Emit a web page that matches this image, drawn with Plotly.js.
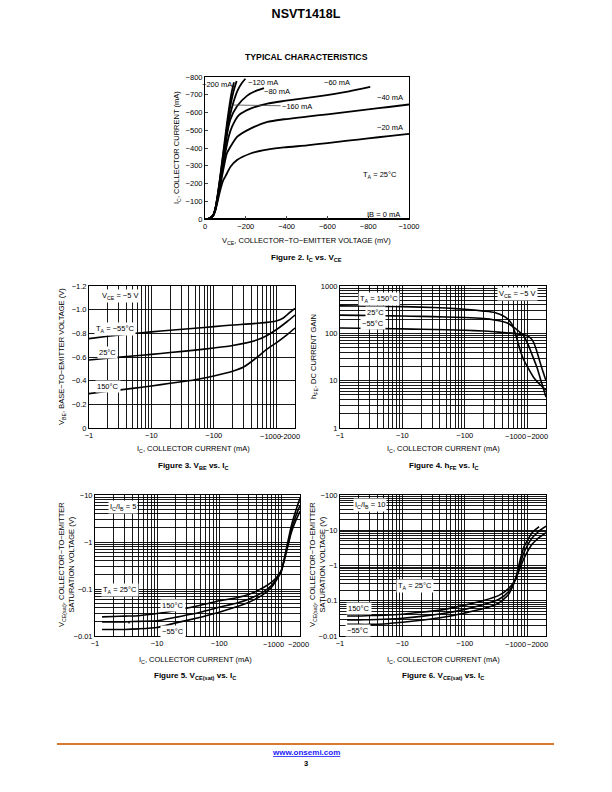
<!DOCTYPE html>
<html><head><meta charset="utf-8">
<script src="https://cdn.plot.ly/plotly-3.0.1.min.js"></script>
<style>html,body{margin:0;padding:0;background:#fff}#chart{width:612px;height:792px}</style>
</head><body><div id="chart"></div><script>
// ---------- Figure 2: IC vs VCE (mV, mA) ----------
const ib20_v  = [0,-20,-40,-50,-60,-70,-80,-90,-100,-125,-157,-223,-289,-388,-500,-600,-700,-800,-900,-1000];
const ib20_i  = [0,-3,-18,-45,-90,-140,-185,-220,-240,-294,-332,-369,-388,-403,-415,-428,-441,-454,-467,-480];
const ib40_v  = [0,-20,-40,-50,-60,-70,-80,-90,-107,-124,-157,-223,-306,-388,-500,-600,-700,-800,-900,-1000];
const ib40_i  = [0,-3,-19,-48,-100,-160,-220,-280,-369,-406,-463,-509,-547,-562,-577,-590,-604,-618,-631,-645];
const ib60_v  = [0,-20,-40,-50,-60,-70,-80,-90,-100,-116,-132,-165,-223,-306,-388,-554,-700,-810];
const ib60_i  = [0,-3,-20,-50,-105,-170,-240,-310,-375,-463,-519,-584,-622,-650,-665,-691,-718,-744];
const ib80_v  = [0,-20,-40,-50,-60,-70,-80,-90,-100,-110,-124,-157,-207,-250,-289];
const ib80_i  = [0,-3,-20,-52,-110,-180,-255,-330,-410,-490,-560,-635,-695,-722,-737];
const ib120_v = [0,-20,-40,-50,-60,-70,-80,-90,-100,-110,-120,-140,-160,-180,-198];
const ib120_i = [0,-3,-21,-54,-115,-190,-270,-350,-430,-505,-570,-660,-725,-765,-790];
const ib160_v = [0,-20,-40,-50,-60,-70,-80,-90,-100,-110,-120,-140,-155];
const ib160_i = [0,-3,-21,-55,-118,-195,-280,-365,-450,-535,-610,-720,-778];
const ib200_v = [0,-20,-40,-50,-60,-70,-80,-90,-100,-110,-120,-130,-142];
const ib200_i = [0,-3,-22,-56,-120,-200,-290,-380,-470,-560,-640,-710,-770];
const ib0_v   = [0,-1000];
const ib0_i   = [0,0];
const fig2XTicks = [0,-200,-400,-600,-800,-1000];
const fig2XText  = ['0','−200','−400','−600','−800','−1000'];
const fig2YTicks = [0,-100,-200,-300,-400,-500,-600,-700,-800];
const fig2YText  = ['0','−100','−200','−300','−400','−500','−600','−700','−800'];

// ---------- Collector current axis (magnitude, mA) for Figs 3-6 ----------
const icTickVals = [1,10,100,1000,2000];
const icTickText = ['−1','−10','−100','−1000','−2000'];

// ---------- Figure 3: VBE vs IC ----------
const vbe_ic     = [1,2,5,10,20,50,100,200,500,1000,1300,1600,2000];
const vbe_m55    = [-0.755,-0.775,-0.798,-0.812,-0.826,-0.843,-0.857,-0.87,-0.885,-0.905,-0.93,-0.97,-1.01];
const vbe25_ic   = [1,2,5,10,20,50,100,200,500,700,1000,1500,2000];
const vbe_25     = [-0.575,-0.59,-0.608,-0.622,-0.638,-0.658,-0.676,-0.697,-0.745,-0.78,-0.83,-0.9,-0.955];
const vbe150_ic  = [1,2,5,10,20,50,100,200,300,500,700,1000,1500,2000];
const vbe_150    = [-0.29,-0.31,-0.335,-0.355,-0.378,-0.408,-0.44,-0.48,-0.515,-0.6,-0.665,-0.72,-0.79,-0.845];
const vbeTickVals = [0,-0.2,-0.4,-0.6,-0.8,-1.0,-1.2];
const vbeTickText = ['0','−0.2','−0.4','−0.6','−0.8','−1.0','−1.2'];

// ---------- Figure 4: hFE vs IC ----------
const hfe150_ic = [1,2,5,10,20,50,100,200,300,447,571,686,780,875,1000,1268,1600,2000];
const hfe_150   = [380,377,372,366,358,342,322,295,275,220,155,75,42,28,20,11.7,8.3,6.3];
const hfe25_ic  = [1,2,5,10,20,50,100,200,300,415,500,603,750,875,1050,1200,1435,1700,2000];
const hfe_25    = [243,240,236,232,228,222,216,205,192,175,162,135,108,89,55,35,19,9,4.5];
const hfem55_ic = [1,2,5,10,20,50,100,200,300,415,603,800,993,1150,1268,1400,1524,1750,2000];
const hfe_m55   = [130,128,126,124,122,119,116,112,108,104,100,95,89,78,64,45,31,17,10];
const hfeTickVals = [1,10,100,1000];
const hfeTickText = ['1','10','100','1000'];

// ---------- Figure 5: VCE(sat) vs IC, IC/IB = 5 (magnitudes, V) ----------
const sat5_ic     = [1.3,2,3,5,10,20,50,84,100,200,289,500,700,850,1000,1200,1450,1700,2000];
const sat5_150    = [0.0255,0.026,0.0265,0.027,0.030,0.035,0.045,0.053,0.056,0.066,0.075,0.105,0.14,0.18,0.25,0.6,1.6,2.8,4.5];
const sat5_25     = [0.020,0.020,0.020,0.0205,0.021,0.025,0.032,0.0385,0.041,0.051,0.06,0.085,0.12,0.17,0.24,0.62,1.8,3.5,6.0];
const sat5_m55    = [0.0137,0.0137,0.0138,0.0142,0.0152,0.019,0.025,0.030,0.032,0.043,0.051,0.075,0.11,0.16,0.24,0.7,2.2,4.5,8.5];
const sat5TickVals = [0.01,0.1,1,10];
const sat5TickText = ['−0.01','−0.1','−1','−10'];

// ---------- Figure 6: VCE(sat) vs IC, IC/IB = 10 (magnitudes, V) ----------
const sat10_ic    = [1.3,2,3,5,10,20,50,100,200,347,500,644,760,875,1000,1194,1400,1600,2000];
const sat10_150   = [0.037,0.037,0.038,0.039,0.0416,0.047,0.058,0.075,0.102,0.14,0.22,0.4,0.8,1.5,2.4,4.0,5.3,6.5,8.5];
const sat10_25    = [0.0286,0.0287,0.029,0.030,0.032,0.036,0.045,0.057,0.078,0.108,0.18,0.4,1.0,2.2,3.6,6.0,8.0,10.0,13.0];
const sat10m55_ic = [1.3,2,3,5,10,20,50,100,200,347,500,644,760,875,1000,1194,1400,1550];
const sat10_m55   = [0.0215,0.0213,0.0213,0.022,0.0245,0.028,0.035,0.045,0.06,0.085,0.15,0.4,1.3,3.2,5.0,8.5,11.0,12.7];
const sat10TickVals = [0.01,0.1,1,10,100];
const sat10TickText = ['−0.01','−0.1','−1','−10','−100'];

// ---------- helpers ----------
const FONT = 'Liberation Sans, Arial, Helvetica, sans-serif';
const W = 612, H = 792;
const px = x => x / W, py = y => 1 - y / H;
function ann(text, x, y, opt) {
  return Object.assign({text, x: px(x), y: py(y), xref: 'paper', yref: 'paper', showarrow: false,
    font: {size: 7.5, family: FONT, color: '#000'}, xanchor: 'center', yanchor: 'middle'}, opt || {});
}
function boxed(text, x, y, opt) { return ann(text, x, y, Object.assign({bgcolor: '#fff', borderpad: 1}, opt || {})); }
function arrowMark(x, y, len) {
  return {xref: 'paper', yref: 'paper', x: px(x), y: py(y), ax: 0, ay: -len, showarrow: true,
    arrowhead: 2, arrowsize: 0.6, arrowwidth: 1, arrowcolor: '#000'};
}
function ln(x, y, xa, ya, w) {
  return {type: 'scatter', mode: 'lines', x, y, xaxis: xa, yaxis: ya, showlegend: false, hoverinfo: 'skip',
    line: {color: '#000', width: w, shape: 'spline', smoothing: 0.6}};
}
function minorLog(lo, hi) {
  const out = [];
  for (let d = Math.floor(Math.log10(lo)); d <= Math.ceil(Math.log10(hi)); d++)
    for (let m = 2; m <= 9; m++) { const v = m * Math.pow(10, d); if (v > lo && v < hi) out.push(v); }
  return out;
}
const tickFont = {size: 7.5, family: FONT, color: '#000'};
const frame = {showline: true, mirror: true, linecolor: '#000', linewidth: 1, zeroline: false, tickfont: tickFont, fixedrange: true, tickangle: 0};
const grid = {showgrid: true, gridcolor: '#000', gridwidth: 0.9};
// axis labels −1, −10, −100 on the axis; the crowded −1000 / −2000 are annotations nudged left as in the original
function icAxis(domain, anchor) {
  return Object.assign({}, frame, grid, {type: 'log', domain, anchor, range: [0, Math.log10(2000)],
    tickmode: 'array', tickvals: icTickVals.slice(0, 3), ticktext: icTickText.slice(0, 3), ticks: '',
    minor: {tickmode: 'array', tickvals: minorLog(1, 2000).concat([icTickVals[3]]), showgrid: true, gridcolor: '#000', gridwidth: 0.9, ticks: ''}});
}
function icEndLabels(xref, rowY, shifts) {
  return [3, 4].map((k, j) => ({text: icTickText[k], xref, yref: 'paper', x: Math.log10(icTickVals[k]), y: py(rowY),
    xanchor: 'center', yanchor: 'middle', showarrow: false, xshift: shifts[j], font: tickFont}));
}
function logY(domain, anchor, range, vals, text) {
  return Object.assign({}, frame, grid, {type: 'log', domain, anchor, range, tickmode: 'array', tickvals: vals, ticktext: text, ticks: '',
    minor: {tickmode: 'array', tickvals: minorLog(Math.pow(10, range[0]), Math.pow(10, range[1])), showgrid: true, gridcolor: '#000', gridwidth: 0.9, ticks: ''}});
}

const traces = [
  ln(ib0_v, ib0_i, 'x', 'y', 1.8),
  ln(ib20_v, ib20_i, 'x', 'y', 1.8), ln(ib40_v, ib40_i, 'x', 'y', 1.8), ln(ib60_v, ib60_i, 'x', 'y', 1.8),
  ln(ib80_v, ib80_i, 'x', 'y', 1.8), ln(ib120_v, ib120_i, 'x', 'y', 1.8), ln(ib160_v, ib160_i, 'x', 'y', 1.8),
  ln(ib200_v, ib200_i, 'x', 'y', 1.8),
  ln(vbe_ic, vbe_m55, 'x2', 'y2', 1.6), ln(vbe25_ic, vbe_25, 'x2', 'y2', 1.6), ln(vbe150_ic, vbe_150, 'x2', 'y2', 1.6),
  ln(hfe150_ic, hfe_150, 'x3', 'y3', 1.6), ln(hfe25_ic, hfe_25, 'x3', 'y3', 1.6), ln(hfem55_ic, hfe_m55, 'x3', 'y3', 1.6),
  ln(sat5_ic, sat5_150, 'x4', 'y4', 1.6), ln(sat5_ic, sat5_25, 'x4', 'y4', 1.6), ln(sat5_ic, sat5_m55, 'x4', 'y4', 1.6),
  ln(sat10_ic, sat10_150, 'x5', 'y5', 1.6), ln(sat10_ic, sat10_25, 'x5', 'y5', 1.6), ln(sat10m55_ic, sat10_m55, 'x5', 'y5', 1.6)
];

const dTop = [py(428), py(286)], dBot = [py(636), py(495)];
const layout = {
  width: W, height: H, margin: {l: 0, r: 0, t: 0, b: 0}, paper_bgcolor: '#fff', plot_bgcolor: '#fff',
  font: {family: FONT, size: 7.5, color: '#000'}, showlegend: false,
  title: {text: '<b>NSVT1418L</b>', x: 0.5, xanchor: 'center', y: py(14), yanchor: 'middle', font: {size: 12.5, family: FONT, color: '#000'}},
  xaxis: Object.assign({}, frame, {domain: [px(205), px(409)], anchor: 'y', range: [0, -1000], showgrid: false,
    tickmode: 'array', tickvals: fig2XTicks, ticktext: fig2XText, ticks: 'inside', ticklen: 3}),
  yaxis: Object.assign({}, frame, {domain: [py(219), py(77)], anchor: 'x', range: [0, -800], showgrid: false,
    tickmode: 'array', tickvals: fig2YTicks, ticktext: fig2YText, ticks: 'inside', ticklen: 3}),
  xaxis2: icAxis([px(89), px(295)], 'y2'),
  yaxis2: Object.assign({}, frame, grid, {domain: dTop, anchor: 'x2', range: [0, -1.2], tickmode: 'array', tickvals: vbeTickVals, ticktext: vbeTickText, ticks: ''}),
  xaxis3: icAxis([px(340), px(546)], 'y3'),
  yaxis3: logY(dTop, 'x3', [0, 3], hfeTickVals, hfeTickText),
  xaxis4: icAxis([px(95), px(300)], 'y4'),
  yaxis4: logY(dBot, 'x4', [-2, 1], sat5TickVals, sat5TickText),
  xaxis5: icAxis([px(340), px(546)], 'y5'),
  yaxis5: logY(dBot, 'x5', [-2, 2], sat10TickVals, sat10TickText),
  shapes: [
    {type: 'line', xref: 'paper', yref: 'paper', x0: px(57), x1: px(554), y0: py(744), y1: py(744), line: {color: '#d8792f', width: 2}}
  ],
  annotations: [
    ann('<b>TYPICAL CHARACTERISTICS</b>', 306, 57, {font: {size: 8.7, family: FONT, color: '#000'}}),
    // Fig 2
    ann('I<sub>C</sub>, COLLECTOR CURRENT (mA)', 177, 148, {textangle: -90}),
    ann('V<sub>CE</sub>, COLLECTOR−TO−EMITTER VOLTAGE (mV)', 306, 241),
    ann('<b>Figure 2. I<sub>C</sub> vs. V<sub>CE</sub></b>', 306, 258, {font: {size: 8, family: FONT, color: '#000'}}),
    ann('−200 mA', 217, 85), ann('−120 mA', 263, 82), ann('−60 mA', 337, 82), ann('−80 mA', 277, 91),
    ann('−160 mA', 233, 105, {showarrow: true, arrowhead: 0, arrowwidth: 0.8, ax: 64, ay: 1, standoff: 0}),
    ann('−40 mA', 390, 98), ann('−20 mA', 390, 127),
    ann('T<sub>A</sub> = 25°C', 380, 175), ann('IB = 0 mA', 383, 214),
    // Fig 3
    ann('V<sub>BE</sub>, BASE−TO−EMITTER VOLTAGE (V)', 62, 357, {textangle: -90}),
    ann('I<sub>C</sub>, COLLECTOR CURRENT (mA)', 193, 449),
    ann('<b>Figure 3. V<sub>BE</sub> vs. I<sub>C</sub></b>', 193, 466, {font: {size: 8, family: FONT, color: '#000'}}),
    boxed('V<sub>CE</sub> = −5 V', 120, 296), boxed('T<sub>A</sub> = −55°C', 115, 329),
    boxed('25°C', 107, 352), boxed('150°C', 108, 386),
    ...icEndLabels('x2', 436, [-6, -6]),
    // Fig 4
    ann('h<sub>FE</sub>, DC CURRENT GAIN', 314, 357, {textangle: -90}),
    ann('I<sub>C</sub>, COLLECTOR CURRENT (mA)', 443, 449),
    ann('<b>Figure 4. h<sub>FE</sub> vs. I<sub>C</sub></b>', 443, 466, {font: {size: 8, family: FONT, color: '#000'}}),
    boxed('T<sub>A</sub> = 150°C', 379, 299), boxed('25°C', 375, 312), boxed('−55°C', 373, 323),
    boxed('V<sub>CE</sub> = −5 V', 517, 294),
    ...icEndLabels('x3', 436, [-12, -9]),
    // Fig 5
    ann('V<sub>CE(sat)</sub>, COLLECTOR−TO−EMITTER<br>SATURATION VOLTAGE (V)', 66, 565, {textangle: -90}),
    ann('I<sub>C</sub>, COLLECTOR CURRENT (mA)', 195, 660),
    ann('<b>Figure 5. V<sub>CE(sat)</sub> vs. I<sub>C</sub></b>', 195, 676, {font: {size: 8, family: FONT, color: '#000'}}),
    boxed('I<sub>C</sub>/I<sub>B</sub> = 5', 123, 507), boxed('T<sub>A</sub> = 25°C', 120, 590),
    boxed('150°C', 173, 605), boxed('−55°C', 173, 631),
    arrowMark(129, 624, 7),
    ...icEndLabels('x4', 644, [-8, -2]),
    // Fig 6
    ann('V<sub>CE(sat)</sub>, COLLECTOR−TO−EMITTER<br>SATURATION VOLTAGE (V)', 317, 565, {textangle: -90}),
    ann('I<sub>C</sub>, COLLECTOR CURRENT (mA)', 443, 660),
    ann('<b>Figure 6. V<sub>CE(sat)</sub> vs. I<sub>C</sub></b>', 443, 676, {font: {size: 8, family: FONT, color: '#000'}}),
    boxed('I<sub>C</sub>/I<sub>B</sub> = 10', 370, 505), boxed('T<sub>A</sub> = 25°C', 415, 586),
    boxed('150°C', 359, 608), boxed('−55°C', 358, 630),
    arrowMark(413, 616, 6),
    ...icEndLabels('x5', 644, [-12, -9]),
    // footer
    ann('<b><u>www.onsemi.com</u></b>', 306, 752, {font: {size: 8, family: FONT, color: '#1a1aff'}}),
    ann('<b>3</b>', 306, 763, {font: {size: 7.5, family: FONT, color: '#000'}})
  ]
};
Plotly.newPlot('chart', traces, layout, {staticPlot: true, displayModeBar: false});
</script></body></html>
